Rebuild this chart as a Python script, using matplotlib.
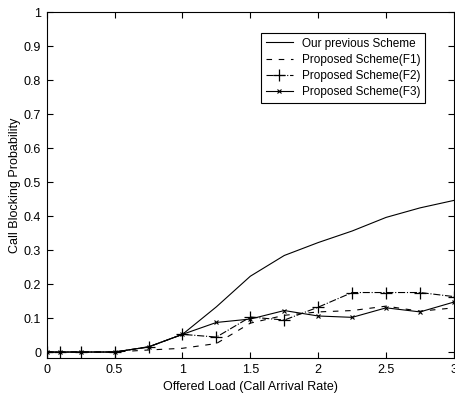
import matplotlib
matplotlib.use('Agg')
import matplotlib.pyplot as plt

plt.rcParams['font.family'] = ['Liberation Sans', 'DejaVu Sans']

# offered load (call arrival rate)
load = [0, 0.1, 0.25, 0.5, 0.75, 1.0, 1.25, 1.5, 1.75, 2.0, 2.25, 2.5, 2.75, 3.0]

previous = [0, 0, 0, 0, 0.015, 0.052, 0.133, 0.223, 0.284, 0.322, 0.356, 0.396, 0.424, 0.446]
f1 = [0, 0, 0, 0, 0.006, 0.011, 0.025, 0.085, 0.108, 0.118, 0.122, 0.135, 0.12, 0.13]
f2 = [0, 0, 0, 0, 0.015, 0.052, 0.044, 0.103, 0.094, 0.132, 0.175, 0.175, 0.175, 0.163]
f3 = [0, 0, 0, 0, 0.015, 0.052, 0.087, 0.097, 0.122, 0.106, 0.102, 0.13, 0.118, 0.147]

fig = plt.figure(figsize=(4.56, 3.97), dpi=100)
ax = fig.add_axes([0.1024, 0.0982, 0.8932, 0.8715])

ax.plot(load, previous, '-', color='black', linewidth=0.8, label='Our previous Scheme')
ax.plot(load, f1, '--', color='black', linewidth=0.8, dashes=(5, 6), label='Proposed Scheme(F1)')
ax.plot(load, f2, '-.', color='black', linewidth=0.8, marker='+', markersize=9,
        markeredgewidth=0.9, label='Proposed Scheme(F2)')
ax.plot(load, f3, '-', color='black', linewidth=0.8, marker='x', markersize=3,
        markeredgewidth=0.8, label='Proposed Scheme(F3)')

ax.set_xlim(0, 3)
ax.set_ylim(-0.0176, 1)
ax.set_xticks([0, 0.5, 1, 1.5, 2, 2.5, 3])
ax.set_xticklabels(['0', '0.5', '1', '1.5', '2', '2.5', '3'])
ax.set_yticks([0, 0.1, 0.2, 0.3, 0.4, 0.5, 0.6, 0.7, 0.8, 0.9, 1])
ax.set_yticklabels(['0', '0.1', '0.2', '0.3', '0.4', '0.5', '0.6', '0.7', '0.8', '0.9', '1'])
ax.tick_params(direction='in', length=4, labelsize=9, top=True, right=True, pad=4)
for s in ax.spines.values():
    s.set_linewidth(0.8)

ax.set_xlabel('Offered Load (Call Arrival Rate)', fontsize=9, labelpad=4)
ax.set_ylabel('Call Blocking Probability', fontsize=9, labelpad=2)

leg = ax.legend(loc='upper right', bbox_to_anchor=(0.93, 0.94), borderaxespad=0,
                fontsize=8.5, fancybox=False, framealpha=1, edgecolor='black',
                handlelength=2.3, borderpad=0.4, labelspacing=0.35, numpoints=1)
leg.get_frame().set_linewidth(0.8)

fig.savefig('out.png', dpi=100)
